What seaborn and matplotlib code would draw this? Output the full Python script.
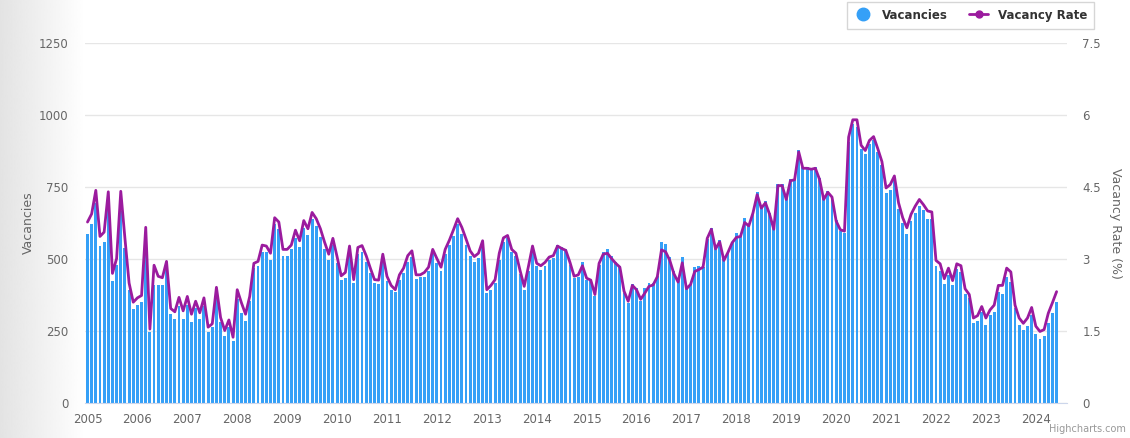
import numpy as np
import pandas as pd
import matplotlib
matplotlib.use("Agg")
import matplotlib.pyplot as plt
from matplotlib.lines import Line2D
import seaborn as sns

# monthly data, Jan 2005 - Jun 2024
vacancies = [
    588, 622, 696, 545, 559, 685, 422, 480, 668, 537, 394, 325,   # 2005
    342, 350, 565, 245, 411, 411, 408, 462, 308, 291, 337, 291,   # 2006
    342, 282, 331, 291, 337, 248, 263, 371, 280, 232, 263, 217,   # 2007
    360, 314, 285, 354, 468, 474, 525, 525, 497, 620, 605, 510,   # 2008
    510, 533, 574, 540, 608, 582, 639, 616, 576, 533, 497, 548,   # 2009
    485, 426, 434, 525, 417, 519, 525, 488, 451, 417, 414, 497,   # 2010
    422, 394, 385, 428, 451, 491, 508, 431, 437, 439, 459, 519,   # 2011
    485, 459, 519, 548, 579, 620, 588, 548, 510, 491, 502, 542,   # 2012
    382, 394, 417, 497, 559, 574, 525, 510, 449, 394, 457, 531,   # 2013
    474, 462, 474, 497, 502, 550, 542, 536, 479, 434, 439, 488,   # 2014
    428, 422, 371, 479, 525, 536, 510, 491, 476, 382, 348, 414,   # 2015
    399, 354, 399, 417, 418, 440, 560, 552, 506, 457, 426, 506,   # 2016
    403, 414, 471, 477, 471, 569, 609, 540, 565, 500, 523, 560,   # 2017
    592, 580, 643, 620, 666, 731, 677, 700, 660, 614, 761, 761,   # 2018
    715, 777, 777, 878, 820, 818, 815, 818, 780, 712, 735, 717,   # 2019
    637, 597, 592, 905, 969, 957, 883, 866, 900, 912, 872, 826,   # 2020
    729, 740, 775, 672, 626, 586, 632, 660, 685, 669, 640, 640,   # 2021
    477, 460, 414, 443, 409, 466, 454, 380, 363, 277, 283, 317,   # 2022
    271, 306, 317, 386, 380, 437, 420, 329, 271, 254, 266, 306,   # 2023
    240, 223, 231, 277, 311, 349,                                 # 2024
]

vacancy_rate = [
    3.77, 3.94, 4.43, 3.47, 3.56, 4.40, 2.70, 3.01, 4.41, 3.43, 2.50, 2.10,
    2.19, 2.24, 3.66, 1.54, 2.87, 2.64, 2.61, 2.95, 1.97, 1.90, 2.20, 1.92,
    2.22, 1.85, 2.12, 1.88, 2.19, 1.58, 1.65, 2.41, 1.78, 1.51, 1.73, 1.37,
    2.36, 2.09, 1.85, 2.22, 2.91, 2.95, 3.29, 3.27, 3.12, 3.86, 3.77, 3.20,
    3.20, 3.29, 3.60, 3.38, 3.80, 3.63, 3.97, 3.84, 3.63, 3.35, 3.10, 3.43,
    3.05, 2.65, 2.72, 3.27, 2.57, 3.24, 3.28, 3.07, 2.81, 2.57, 2.56, 3.10,
    2.64, 2.45, 2.36, 2.67, 2.81, 3.07, 3.17, 2.67, 2.67, 2.72, 2.83, 3.20,
    3.01, 2.83, 3.20, 3.39, 3.61, 3.84, 3.66, 3.42, 3.17, 3.05, 3.12, 3.38,
    2.36, 2.45, 2.57, 3.12, 3.44, 3.49, 3.20, 3.12, 2.76, 2.43, 2.84, 3.27,
    2.91, 2.86, 2.93, 3.04, 3.07, 3.27, 3.22, 3.18, 2.93, 2.64, 2.67, 2.86,
    2.60, 2.56, 2.26, 2.91, 3.10, 3.12, 3.01, 2.91, 2.83, 2.33, 2.12, 2.45,
    2.36, 2.16, 2.29, 2.43, 2.46, 2.63, 3.19, 3.15, 2.97, 2.69, 2.52, 2.92,
    2.38, 2.47, 2.74, 2.78, 2.83, 3.43, 3.62, 3.21, 3.36, 2.97, 3.14, 3.34,
    3.45, 3.47, 3.76, 3.69, 3.96, 4.34, 4.06, 4.17, 3.93, 3.62, 4.53, 4.53,
    4.24, 4.63, 4.65, 5.23, 4.89, 4.89, 4.87, 4.89, 4.66, 4.24, 4.39, 4.29,
    3.79, 3.61, 3.58, 5.54, 5.90, 5.90, 5.37, 5.26, 5.47, 5.55, 5.30, 5.03,
    4.48, 4.55, 4.73, 4.17, 3.86, 3.65, 3.93, 4.10, 4.24, 4.13, 4.00, 3.98,
    2.97, 2.90, 2.59, 2.81, 2.55, 2.90, 2.86, 2.38, 2.26, 1.77, 1.82, 2.01,
    1.77, 1.94, 2.04, 2.45, 2.45, 2.81, 2.73, 2.04, 1.77, 1.66, 1.77, 1.99,
    1.60, 1.49, 1.53, 1.87, 2.09, 2.32,
]

years = list(range(2005, 2025))
left_ticks = [0, 250, 500, 750, 1000, 1250]
right_ticks = [0, 1.5, 3, 4.5, 6, 7.5]

BAR_COLOR = "#35a0f7"
LINE_COLOR = "#9b1b9e"
GRID_COLOR = "#e6e6e6"
AXIS_COLOR = "#ccd6eb"
TEXT_COLOR = "#666666"

df = pd.DataFrame({
    "month": np.arange(len(vacancies)),
    "vacancies": vacancies,
    "rate": vacancy_rate,
})

sns.set_style("white")
plt.rcParams["font.family"] = ["DejaVu Sans"]

fig = plt.figure(figsize=(11.3, 4.38), dpi=100)

# grey fade on the left edge of the screenshot
bg = fig.add_axes([0, 0, 0.075, 1], zorder=-5)
grad = np.linspace(0.89, 1.0, 256).reshape(1, -1)
bg.imshow(grad, aspect="auto", cmap="gray", vmin=0, vmax=1, extent=[0, 1, 0, 1])
bg.axis("off")

ax = fig.add_axes([85 / 1130, 35 / 438, 982 / 1130, 360 / 438])
ax.set_facecolor("none")
sns.barplot(data=df, x="month", y="vacancies", ax=ax, color=BAR_COLOR,
            saturation=1, width=0.7, linewidth=0, native_scale=True)

ax.set_ylim(0, 1250)
ax.set_yticks(left_ticks)
ax.set_yticklabels([str(t) for t in left_ticks], color=TEXT_COLOR, fontsize=8.5)
ax.yaxis.grid(True, color=GRID_COLOR, linewidth=1)
ax.set_axisbelow(True)
ax.set_xlim(-0.6, 235.5)
ax.set_xticks([12 * (y - 2005) for y in years])
ax.set_xticklabels([str(y) for y in years], color=TEXT_COLOR, fontsize=8.5)
ax.tick_params(axis="x", length=5, color=AXIS_COLOR, pad=2)
ax.tick_params(axis="y", length=0, pad=12)
for side in ["top", "right", "left"]:
    ax.spines[side].set_visible(False)
ax.spines["bottom"].set_color(AXIS_COLOR)
ax.set_xlabel("")
ax.set_ylabel("Vacancies", color=TEXT_COLOR, fontsize=9, labelpad=3)

ax2 = ax.twinx()
sns.lineplot(data=df, x="month", y="rate", ax=ax2, color=LINE_COLOR, linewidth=2)
ax2.set_ylim(0, 7.5)
ax2.set_yticks(right_ticks)
ax2.set_yticklabels([f"{t:g}" for t in right_ticks], color=TEXT_COLOR, fontsize=8.5)
ax2.tick_params(axis="y", length=0, pad=11)
for side in ["top", "right", "left", "bottom"]:
    ax2.spines[side].set_visible(False)
ax2.set_ylabel("Vacancy Rate (%)", color=TEXT_COLOR, fontsize=9, rotation=270, labelpad=15)
ax2.set_xlim(-0.6, 235.5)

handles = [
    Line2D([], [], marker="o", linestyle="none", color=BAR_COLOR, markersize=9),
    Line2D([], [], marker="o", color=LINE_COLOR, linewidth=2, markersize=5),
]
leg = fig.legend(handles, ["Vacancies", "Vacancy Rate"], loc="upper right",
                 bbox_to_anchor=(1100 / 1130, 1.01), ncol=2, frameon=True,
                 fancybox=False, prop={"weight": "bold", "size": 8.5},
                 handlelength=1.6, columnspacing=1.8, borderpad=0.6)
leg.get_frame().set_edgecolor("#cccccc")
for t in leg.get_texts():
    t.set_color("#333333")

fig.text(1126 / 1130, 4 / 438, "Highcharts.com", ha="right", va="bottom",
         color="#999999", fontsize=7)

fig.savefig("out.png", dpi=100)
